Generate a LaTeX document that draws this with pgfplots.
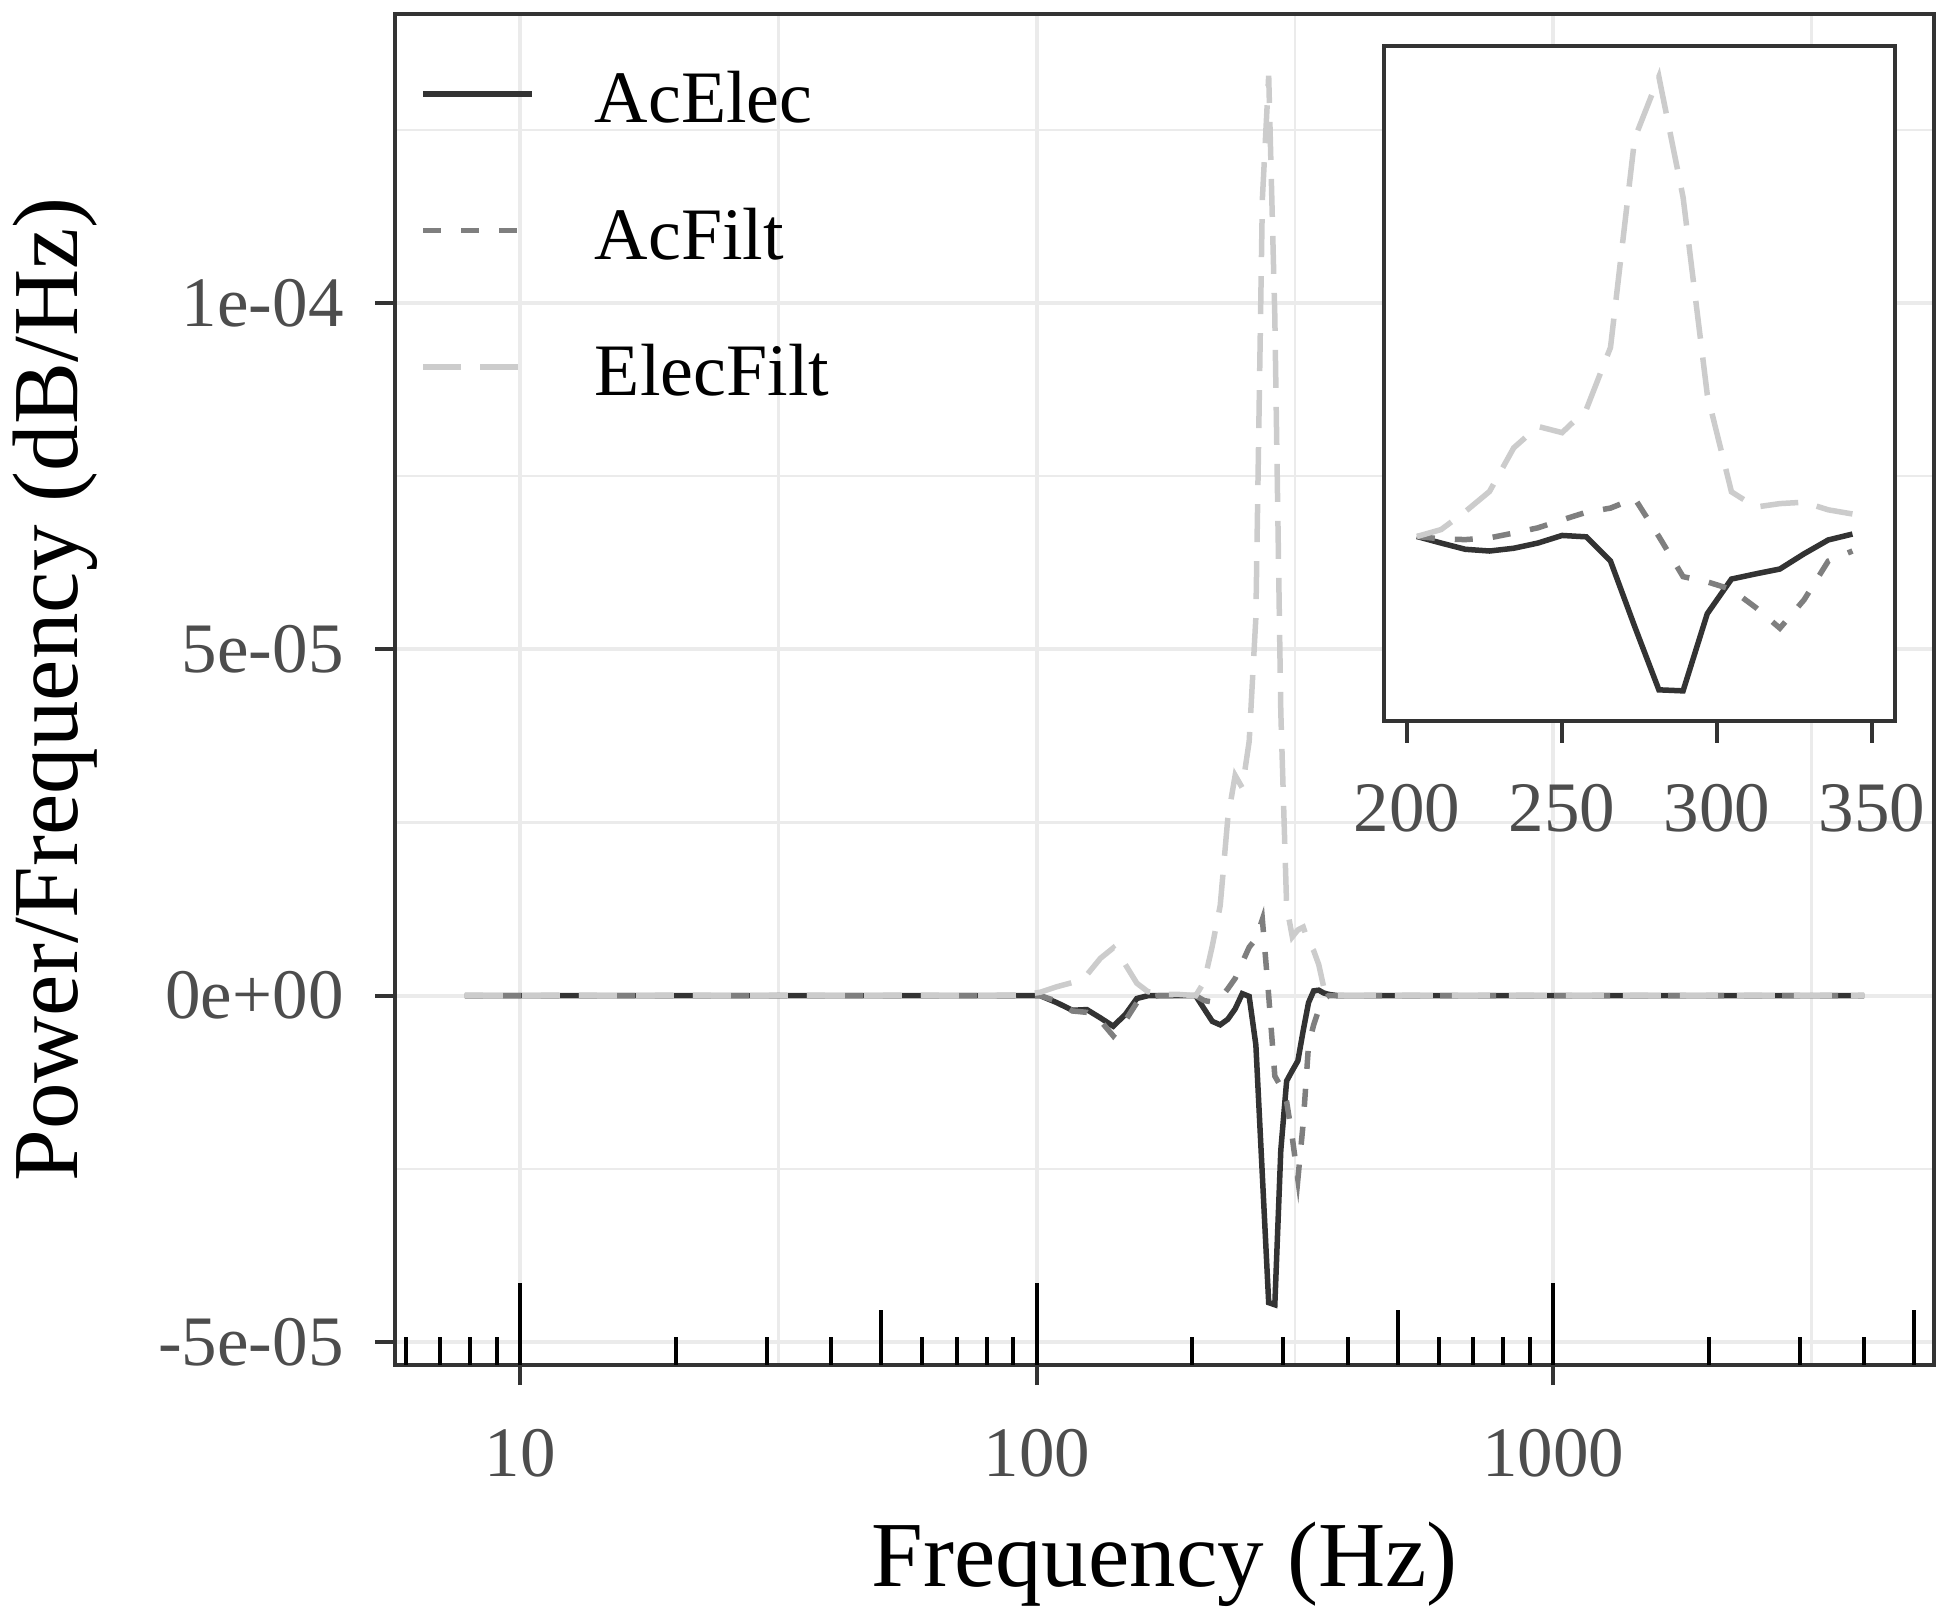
\documentclass[border=0pt]{standalone}
\usepackage{fontspec}
\setmainfont{Liberation Serif}
\usepackage{pgfplots}
\pgfplotsset{compat=1.18}
\usepackage{pgfplotstable}
\definecolor{cA}{HTML}{333333}
\definecolor{cB}{HTML}{7F7F7F}
\definecolor{cC}{HTML}{CCCCCC}
\definecolor{gridc}{HTML}{EBEBEB}
\definecolor{tickc}{HTML}{4D4D4D}
\definecolor{framec}{HTML}{333333}

% values in units of 1e-6 dB/Hz
\pgfplotstableread{
f AcElec AcFilt ElecFilt
7.8125 0 0 0
15.625 0 0 0
31.25 0 0 0
62.5 0 0 0
78.125 0 0 0
85.9375 0 0 0.05
93.75 0 0 0.1
101.5625 0 0 0.5
109.375 -1.0 -0.8 1.3
117.1875 -2.1 -2.2 1.9
125 -2.0 -2.4 3.0
132.8125 -3.2 -3.6 5.4
140.625 -4.4 -5.8 6.9
148.4375 -2.7 -3.6 4.5
156.25 -0.4 -1.0 1.8
164.0625 0 -0.3 0.6
171.875 0 0 0.3
179.6875 0 0 0.2
187.5 0 0 0.2
195.3125 0 0 0.1
203.125 0 0 0
210.9375 -1.9 -0.7 2.0
218.75 -3.7 -0.9 7.2
226.5625 -4.2 -0.4 13.0
234.375 -3.4 1.0 25.6
242.1875 -1.9 2.5 31.8
250 0.3 4.8 30.0
257.8125 -0.1 7.0 36.7
265.625 -7.1 8.2 54.6
273.4375 -26.0 11.0 115.0
281.25 -44.3 0.0 132.8
289.0625 -44.6 -11.6 98.0
296.875 -22.3 -13.1 41.0
304.6875 -12.3 -15.3 12.9
312.5 -10.8 -20.5 8.5
320.3125 -9.4 -26.5 9.5
328.125 -5.0 -18.3 9.9
335.9375 -1.0 -7.1 7.7
343.75 0.7 -4.2 6.5
351.5625 0.8 -2.0 4.5
359.375 0.4 -0.5 1.3
367.1875 0.2 0 0.3
375 0.1 0 0.1
382.8125 0 0 0
500 0 0 0
1000 0 0 0
2000 0 0 0
4000 0 0 0
}\psd

\pgfplotsset{
  acelec/.style={cA, line width=1.1pt},
  acfilt/.style={cB, line width=1.1pt, dash pattern=on 3.6pt off 4pt},
  elecfilt/.style={cC, line width=1.1pt, dash pattern=on 7.6pt off 3.8pt},
}

\begin{document}
\begin{tikzpicture}
\useasboundingbox (-79pt,-50.4pt) rectangle (311pt,273pt);
% main panel
\begin{axis}[
  at={(0pt,0pt)}, anchor=south west,
  scale only axis, width=307.8pt, height=270.2pt,
  xmode=log, log basis x=10,
  xmin=5.718, xmax=5464, ymin=-53.3, ymax=141.7,
  xtick={10,100,1000}, xticklabels={10,100,1000},
  minor xtick={31.623,316.23,3162.3},
  ytick={-50,0,50,100}, yticklabels={-5e-05,0e+00,5e-05,1e-04},
  minor ytick={-25,25,75,125},
  grid=both,
  major grid style={gridc, line width=0.8pt},
  minor grid style={gridc, line width=0.45pt},
  tick align=outside, tick pos=left,
  major tick length=4pt, minor tick length=0pt,
  tick style={framec, line width=0.8pt},
  axis line style={framec, line width=0.7pt},
  tick label style={font=\fontsize{14.2}{16}\selectfont, text=tickc},
  xticklabel style={anchor=north, inner sep=0pt, yshift=-8.6pt},
  yticklabel style={anchor=east, inner sep=0pt, xshift=-6.1pt},
  xlabel={Frequency (Hz)}, ylabel={Power/Frequency (dB/Hz)},
  label style={font=\fontsize{18.6}{22}\selectfont},
  xlabel style={at={([yshift=-44.2pt]axis description cs:0.5,0)}, anchor=base, inner sep=0pt},
  ylabel style={at={([xshift=-63.5pt]axis description cs:0,0.5)}, anchor=base, inner sep=0pt},
  legend cell align=left,
  legend style={draw=none, fill=none, inner sep=0pt, outer sep=0pt,
    at={(axis description cs:0.0165,0.96225)}, anchor=north west,
    font=\fontsize{14.8}{17}\selectfont, row sep=15.7pt, column sep=12pt,
    nodes={inner sep=0pt, text height=11.6pt, text depth=0pt}},
  legend image code/.code={\draw[#1] (0pt,0pt) -- (21.8pt,0pt);},
]
\addplot[acelec] table[x=f, y=AcElec] {\psd};
\addlegendentry{AcElec}
\addplot[acfilt] table[x=f, y=AcFilt] {\psd};
\addlegendentry{AcFilt}
\addplot[elecfilt] table[x=f, y=ElecFilt] {\psd};
\addlegendentry{ElecFilt}
\end{axis}
% log ticks along the bottom of the panel
\begin{axis}[
  at={(0pt,0pt)}, anchor=south west,
  scale only axis, width=307.8pt, height=270.2pt,
  xmode=log, log basis x=10,
  xmin=5.718, xmax=5464, ymin=0, ymax=1,
  axis line style={draw=none}, ytick=\empty,
  xtick={10,100,1000}, xticklabels={},
  minor xtick={6,7,8,9,20,30,40,60,70,80,90,200,300,400,600,700,800,900,2000,3000,4000},
  extra x ticks={50,500,5000}, extra x tick labels={},
  extra x tick style={major tick length=11pt},
  xtick align=inside, xtick pos=left,
  major tick length=16.4pt, minor tick length=5.6pt,
  tick style={black, line width=0.8pt},
]
\end{axis}
% inset
\begin{axis}[
  at={(197.8pt,128.8pt)}, anchor=south west,
  scale only axis, width=102.2pt, height=135pt,
  xmin=192.5, xmax=357.5, ymin=-53.3, ymax=141.7,
  xtick={200,250,300,350}, xticklabels={200,250,300,350}, ytick=\empty,
  tick align=outside, xtick pos=left, major tick length=4.4pt,
  tick style={framec, line width=0.8pt},
  axis background/.style={fill=white},
  axis line style={framec, line width=0.7pt},
  tick label style={font=\fontsize{14.2}{16}\selectfont, text=tickc},
  xticklabel style={anchor=north, inner sep=0pt, yshift=-8pt},
  restrict x to domain=200:350,
]
\addplot[acelec] table[x=f, y=AcElec] {\psd};
\addplot[acfilt] table[x=f, y=AcFilt] {\psd};
\addplot[elecfilt] table[x=f, y=ElecFilt] {\psd};
\end{axis}
\end{tikzpicture}
\end{document}
